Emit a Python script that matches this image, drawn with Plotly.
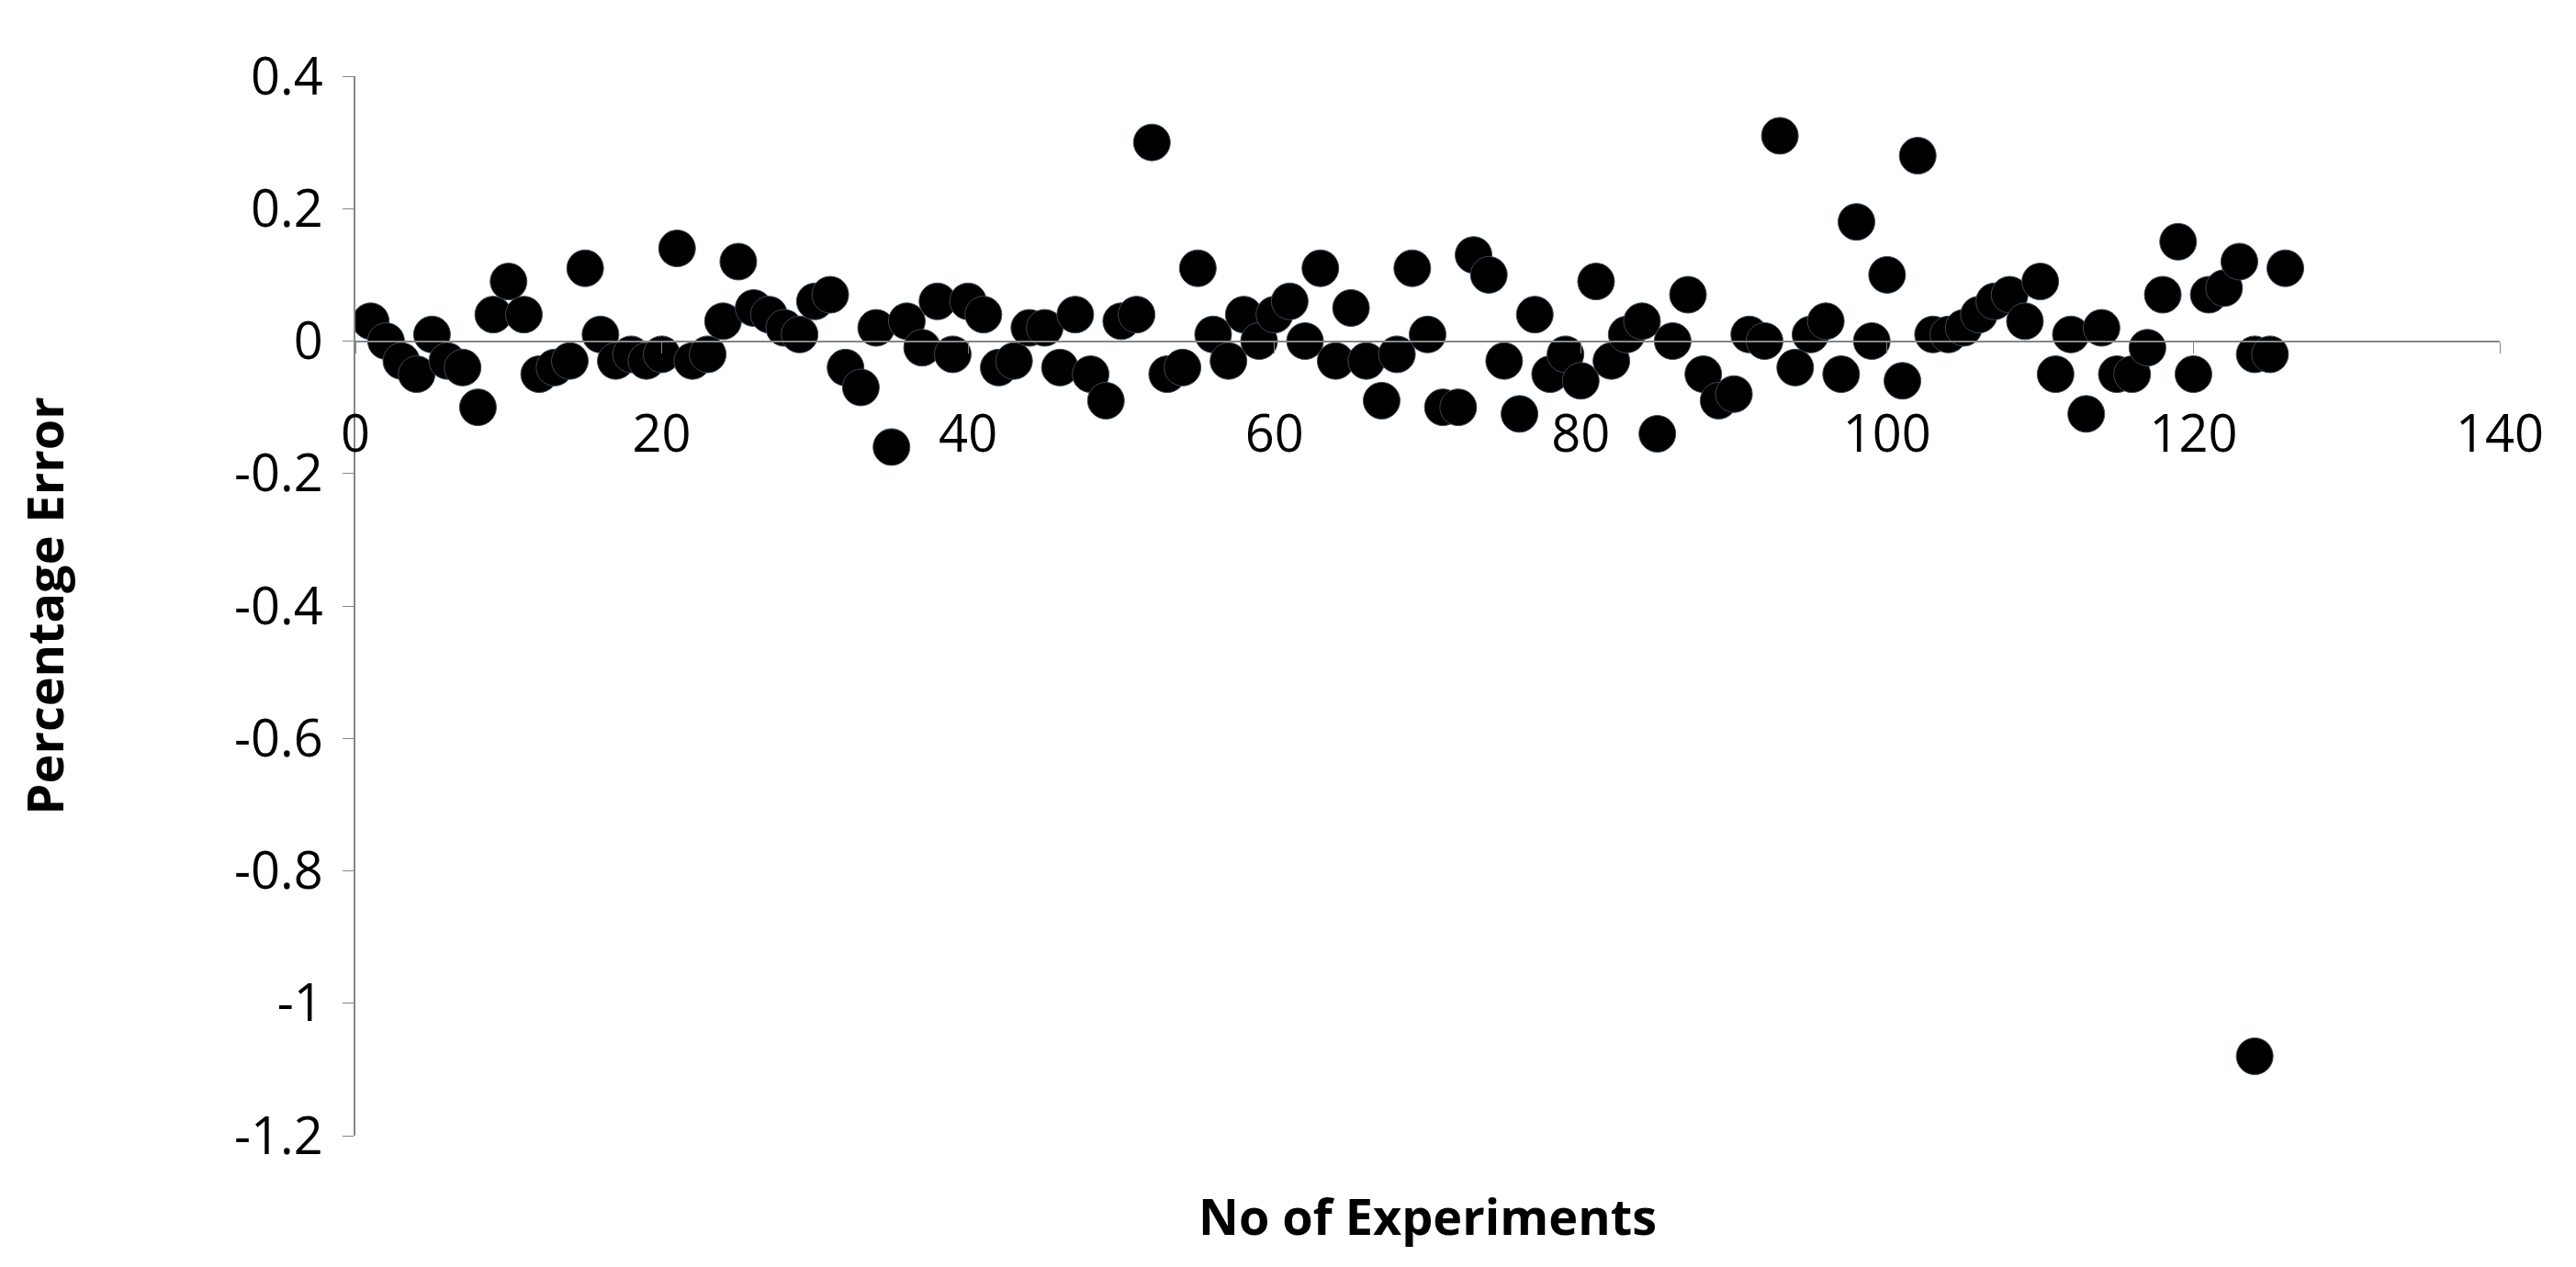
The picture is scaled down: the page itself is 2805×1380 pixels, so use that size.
import plotly.graph_objects as go

experiments = list(range(1, 124)) + [124, 124, 125, 126]
errors = [0.03, 0.0, -0.03, -0.05, 0.01, -0.03, -0.04, -0.10, 0.04, 0.09,
          0.04, -0.05, -0.04, -0.03, 0.11, 0.01, -0.03, -0.02, -0.03, -0.02,
          0.14, -0.03, -0.02, 0.03, 0.12, 0.05, 0.04, 0.02, 0.01, 0.06,
          0.07, -0.04, -0.07, 0.02, -0.16, 0.03, -0.01, 0.06, -0.02, 0.06,
          0.04, -0.04, -0.03, 0.02, 0.02, -0.04, 0.04, -0.05, -0.09, 0.03,
          0.04, 0.30, -0.05, -0.04, 0.11, 0.01, -0.03, 0.04, 0.0, 0.04,
          0.06, 0.0, 0.11, -0.03, 0.05, -0.03, -0.09, -0.02, 0.11, 0.01,
          -0.10, -0.10, 0.13, 0.10, -0.03, -0.11, 0.04, -0.05, -0.02, -0.06,
          0.09, -0.03, 0.01, 0.03, -0.14, 0.0, 0.07, -0.05, -0.09, -0.08,
          0.01, 0.0, 0.31, -0.04, 0.01, 0.03, -0.05, 0.18, 0.0, 0.10,
          -0.06, 0.28, 0.01, 0.01, 0.02, 0.04, 0.06, 0.07, 0.03, 0.09,
          -0.05, 0.01, -0.11, 0.02, -0.05, -0.05, -0.01, 0.07, 0.15, -0.05,
          0.07, 0.08, 0.12, -0.02, -1.08, -0.02, 0.11]

x_ticks = [0, 20, 40, 60, 80, 100, 120, 140]
y_ticks = [0.4, 0.2, 0, -0.2, -0.4, -0.6, -0.8, -1, -1.2]

fig = go.Figure(go.Scatter(
    x=experiments, y=errors, mode="markers",
    marker=dict(size=40, color="black", line=dict(color="#3a4a5a", width=1)),
))

font = "Open Sans, Liberation Sans, sans-serif"
fig.update_layout(
    width=2805, height=1380,
    margin=dict(l=379, r=91, t=75, b=151),
    paper_bgcolor="white", plot_bgcolor="white",
    showlegend=False,
    font=dict(family=font, size=56, color="black"),
    xaxis=dict(range=[0, 140], tickvals=x_ticks, ticktext=[str(v) for v in x_ticks],
               showgrid=False, zeroline=False, showline=True, linecolor="#868686",
               linewidth=2, ticks="outside", ticklen=12, tickcolor="#868686",
               anchor="free", position=0.75, tickfont=dict(size=56),
               ticklabelstandoff=40),
    yaxis=dict(range=[-1.2, 0.4], tickvals=y_ticks,
               ticktext=[f"{v:g}" for v in y_ticks],
               showgrid=False, zeroline=False, showline=True, linecolor="#868686",
               linewidth=2, ticks="outside", ticklen=12, tickcolor="#868686",
               tickfont=dict(size=56), ticklabelstandoff=10),
    annotations=[
        dict(text="<b>No of Experiments</b>", xref="paper", yref="paper",
             x=0.5, y=-0.075, yanchor="middle", showarrow=False,
             font=dict(size=54, family=font)),
        dict(text="<b>Percentage Error</b>", xref="paper", yref="paper",
             x=-0.145, y=0.5, xanchor="center", textangle=-90, showarrow=False,
             font=dict(size=54, family=font)),
    ],
)
fig.write_html("out.html")
